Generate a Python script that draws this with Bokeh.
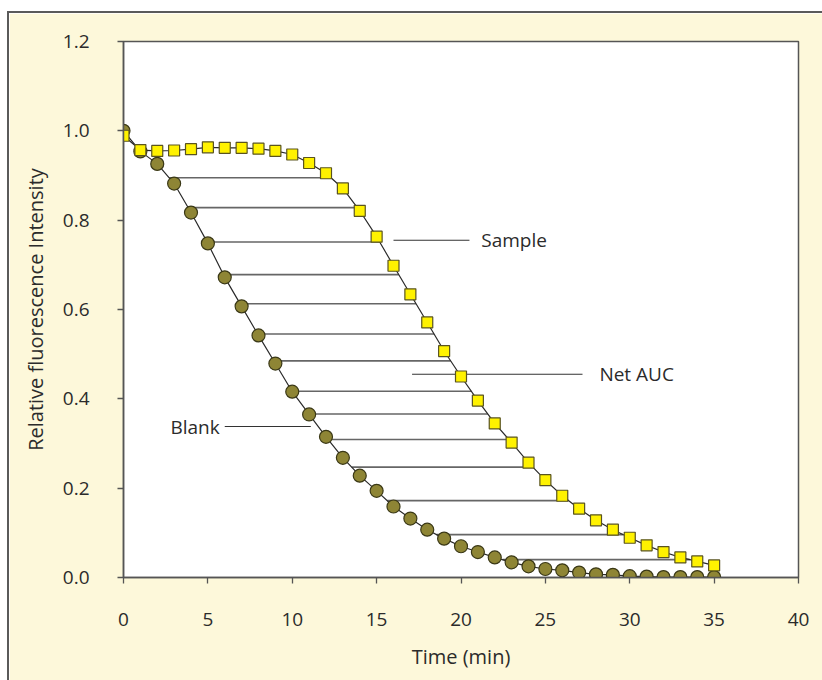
from bokeh.plotting import figure
from bokeh.models import (Range1d, FixedTicker, PrintfTickFormatter, Label,
                          ColumnDataSource, Spacer)
from bokeh.layouts import column, row
from bokeh.embed import file_html
from bokeh.resources import INLINE

# ---------------- data ----------------
time_min = list(range(36))
blank = [1.000, 0.954, 0.926, 0.882, 0.817, 0.748, 0.672, 0.607, 0.542, 0.479,
         0.416, 0.365, 0.315, 0.268, 0.228, 0.194, 0.159, 0.132, 0.107, 0.087,
         0.070, 0.057, 0.045, 0.034, 0.025, 0.019, 0.016, 0.011, 0.007, 0.006,
         0.003, 0.002, 0.001, 0.001, 0.001, 0.001]
sample = [0.989, 0.957, 0.955, 0.956, 0.959, 0.963, 0.962, 0.962, 0.960, 0.955,
          0.947, 0.928, 0.905, 0.871, 0.821, 0.763, 0.698, 0.634, 0.571, 0.507,
          0.450, 0.396, 0.345, 0.302, 0.257, 0.218, 0.183, 0.154, 0.128, 0.107,
          0.089, 0.072, 0.057, 0.045, 0.036, 0.027]
auc_levels = [0.895, 0.828, 0.751, 0.678, 0.613, 0.545, 0.485, 0.417, 0.366,
              0.309, 0.247, 0.172, 0.096, 0.040]
x_ticks = [0, 5, 10, 15, 20, 25, 30, 35, 40]
y_ticks = [0.0, 0.2, 0.4, 0.6, 0.8, 1.0, 1.2]
x_title = "Time (min)"
y_title = "Relative fluorescence Intensity"

# annotations: (text, text_x, text_y, align, leader_x0, leader_x1)
annotations = [
    ("Sample", 21.2, 0.755, "left", 16.0, 20.5),
    ("Net AUC", 28.2, 0.455, "left", 17.1, 27.2),
    ("Blank", 5.7, 0.338, "right", 6.0, 11.1),
]


def crossing(t, curve, level):
    """x where the (decreasing) curve first falls through the level."""
    for i in range(len(curve) - 1):
        if curve[i] >= level > curve[i + 1]:
            f = (curve[i] - level) / (curve[i] - curve[i + 1])
            return t[i] + f * (t[i + 1] - t[i])
    return t[-1]


x0s = [crossing(time_min, blank, lv) for lv in auc_levels]
x1s = [crossing(time_min, sample, lv) for lv in auc_levels]

FONT = "Open Sans"
TXT = "#2b2b2b"
CREAM = "#FDF8DA"
EDGE = "#5a5a5a"

# canvas starts at (9, 13) on the page
ML, MT, FW, FH = 114, 28, 675, 536
W, H = 813, 667

p = figure(width=W, height=H, output_backend="svg", toolbar_location=None,
           x_range=Range1d(0, 40), y_range=Range1d(0, 1.2),
           min_border_left=ML, min_border_right=W - ML - FW, min_border_top=MT,
           min_border_bottom=H - MT - FH,
           background_fill_color="white", border_fill_color=CREAM,
           outline_line_color="#555555", outline_line_width=1.5)
p.grid.visible = False

# net AUC horizontal lines
p.segment(x0=x0s, y0=auc_levels, x1=x1s, y1=auc_levels,
          line_color="#666666", line_width=1.6)

# annotation leaders and text
for txt, tx, ty, al, lx0, lx1 in annotations:
    p.segment(x0=[lx0], y0=[ty], x1=[lx1], y1=[ty], line_color="#333333", line_width=1.1)
    p.add_layout(Label(x=tx, y=ty, text=txt, text_align=al, text_baseline="middle",
                       text_font=FONT, text_font_size="19px", text_color=TXT))

src = ColumnDataSource(dict(t=time_min, blank=blank, sample=sample))
p.line("t", "blank", source=src, line_color="#2a2a2a", line_width=1.2)
p.line("t", "sample", source=src, line_color="#2a2a2a", line_width=1.2)
p.scatter("t", "blank", source=src, marker="circle", size=13,
          fill_color="#8E8535", line_color="#3a3816", line_width=1.2)
p.scatter("t", "sample", source=src, marker="square", size=11,
          fill_color="#FFF200", line_color="#5a5420", line_width=1.2)

# axes
p.xaxis.ticker = FixedTicker(ticks=x_ticks)
p.yaxis.ticker = FixedTicker(ticks=y_ticks)
p.yaxis.formatter = PrintfTickFormatter(format="%.1f")
p.xaxis.axis_label = x_title
p.yaxis.axis_label = y_title
for ax in (p.xaxis[0], p.yaxis[0]):
    ax.axis_line_color = "#555555"
    ax.axis_line_width = 1.5
    ax.major_tick_line_color = "#555555"
    ax.major_tick_line_width = 1.3
    ax.major_tick_in = 0
    ax.major_tick_out = 6
    ax.minor_tick_line_color = None
    ax.major_label_text_font = FONT
    ax.major_label_text_font_size = "19px"
    ax.major_label_text_color = TXT
    ax.axis_label_text_font = FONT
    ax.axis_label_text_font_size = "20px"
    ax.axis_label_text_font_style = "normal"
    ax.axis_label_text_color = TXT
p.xaxis.major_label_standoff = 29
p.xaxis.axis_label_standoff = 14
p.yaxis.major_label_standoff = 28
p.yaxis.axis_label_standoff = 11

# white page margin + grey left/top edge of the cream panel
top_edge = Spacer(width=W + 2, height=2, styles={"background-color": EDGE})
left_edge = Spacer(width=2, height=H, styles={"background-color": EDGE})
page = column(Spacer(width=10, height=11),
              row(Spacer(width=7, height=10),
                  column(top_edge, row(left_edge, p, spacing=0), spacing=0),
                  spacing=0),
              spacing=0)

open("out.html", "w").write(file_html(page, INLINE))
